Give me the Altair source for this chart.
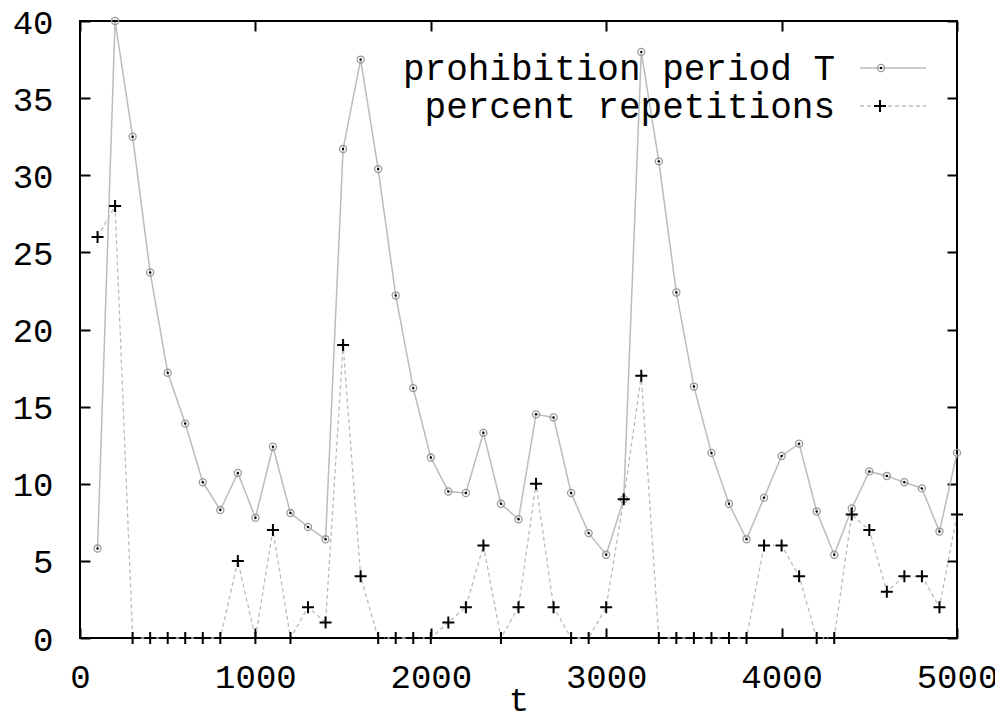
import altair as alt
import pandas as pd

# ---- data ----
t_vals = list(range(100, 5001, 100))
T_vals = [5.8, 40.0, 32.5, 23.7, 17.2, 13.9, 10.1, 8.3, 10.7, 7.8,
          12.4, 8.1, 7.2, 6.4, 31.7, 37.5, 30.4, 22.2, 16.2, 11.7,
          9.5, 9.4, 13.3, 8.7, 7.7, 14.5, 14.3, 9.4, 6.8, 5.4,
          9.0, 38.0, 30.9, 22.4, 16.3, 12.0, 8.7, 6.4, 9.1, 11.8,
          12.6, 8.2, 5.4, 8.4, 10.8, 10.5, 10.1, 9.7, 6.9, 12.0]
rep_vals = [26, 28, 0, 0, 0, 0, 0, 0, 5, 0,
            7, 0, 2, 1, 19, 4, 0, 0, 0, 0,
            1, 2, 6, 0, 2, 10, 2, 0, 0, 2,
            9, 17, 0, 0, 0, 0, 0, 0, 6, 6,
            4, 0, 0, 8, 7, 3, 4, 4, 2, 8]
series_names = ["prohibition period T", "percent repetitions"]
x_ticks = [0, 1000, 2000, 3000, 4000, 5000]
y_ticks = [0, 5, 10, 15, 20, 25, 30, 35, 40]
x_title = "t"

df = pd.DataFrame({"t": t_vals, "T": T_vals, "rep": rep_vals})

FONT = "Liberation Mono"
LINE_GRAY = "#bcbcbc"
PLUS = "M-1,0L1,0M0,-1L0,1"

W, H = 877, 617

common_axis = dict(offset=-10, tickSize=10, tickWidth=2, tickColor="black",
                   domain=False, grid=False, labelFont=FONT, labelFontSize=34,
                   labelColor="black", labelOverlap=False, labelFlush=False,
                   format="d")

ax_bottom = alt.Axis(orient="bottom", values=x_ticks, labelPadding=22,
                     title=x_title, titleFont=FONT, titleFontSize=34,
                     titleFontWeight="normal", titleColor="black",
                     titleBaseline="alphabetic", titleY=82, **common_axis)
ax_top = alt.Axis(orient="top", values=x_ticks, labels=False, title=None,
                  **common_axis)
ax_left = alt.Axis(orient="left", values=y_ticks, labelPadding=27, title=None,
                   labelOffset=2, **common_axis)
ax_right = alt.Axis(orient="right", values=y_ticks, labels=False, title=None,
                    **common_axis)

xs = alt.Scale(domain=[0, 5000], nice=False, zero=False)
ys = alt.Scale(domain=[0, 40], nice=False)

base = alt.Chart(df)

line_T = base.mark_line(color=LINE_GRAY, strokeWidth=1.5).encode(
    x=alt.X("t:Q", scale=xs, axis=ax_bottom),
    y=alt.Y("T:Q", scale=ys, axis=ax_left),
)
line_rep = base.mark_line(color=LINE_GRAY, strokeWidth=1.3, strokeDash=[4, 3]).encode(
    x=alt.X("t:Q", scale=xs, axis=ax_top),
    y=alt.Y("rep:Q", scale=ys, axis=ax_right),
)
pts_T = base.mark_point(shape="circle", size=50, filled=False, stroke="#9a9a9a",
                        strokeWidth=1.3, opacity=1).encode(
    x=alt.X("t:Q", scale=xs, axis=None),
    y=alt.Y("T:Q", scale=ys, axis=None),
)
dots_T = base.mark_point(shape="circle", size=6, filled=True, color="black",
                         opacity=1).encode(
    x=alt.X("t:Q", scale=xs, axis=None),
    y=alt.Y("T:Q", scale=ys, axis=None),
)
pts_rep = base.mark_point(shape=PLUS, size=144, filled=False, stroke="black",
                          strokeWidth=2, opacity=1).encode(
    x=alt.X("t:Q", scale=xs, axis=None),
    y=alt.Y("rep:Q", scale=ys, axis=None),
)

# ---- legend (gnuplot style: label then sample, top right) ----
leg = alt.Chart(pd.DataFrame({"name": series_names[:1]}))
leg_txt1 = leg.mark_text(font=FONT, fontSize=36, align="right",
                         baseline="alphabetic", color="black").encode(
    x=alt.value(755), y=alt.value(59), text=alt.value(series_names[0]))
leg_txt2 = leg.mark_text(font=FONT, fontSize=36, align="right",
                         baseline="alphabetic", color="black").encode(
    x=alt.value(755), y=alt.value(97), text=alt.value(series_names[1]))
leg_line1 = leg.mark_rule(color=LINE_GRAY, strokeWidth=1.5).encode(
    x=alt.value(780), x2=alt.value(846), y=alt.value(47))
leg_line2 = leg.mark_rule(color=LINE_GRAY, strokeWidth=1.3, strokeDash=[4, 3]).encode(
    x=alt.value(780), x2=alt.value(846), y=alt.value(85))
leg_pt1 = leg.mark_point(shape="circle", size=50, filled=False, stroke="#9a9a9a",
                         strokeWidth=1.3, opacity=1).encode(
    x=alt.value(801), y=alt.value(47))
leg_dot1 = leg.mark_point(shape="circle", size=6, filled=True, color="black",
                          opacity=1).encode(x=alt.value(801), y=alt.value(47))
leg_pt2 = leg.mark_point(shape=PLUS, size=144, filled=False, stroke="black",
                         strokeWidth=2, opacity=1).encode(
    x=alt.value(800), y=alt.value(85))

chart = alt.layer(
    line_T, line_rep, pts_T, dots_T, pts_rep,
    leg_line1, leg_line2, leg_pt1, leg_dot1, leg_pt2, leg_txt1, leg_txt2,
).resolve_axis(x="independent", y="independent").properties(
    width=W, height=H,
    autosize=alt.AutoSizeParams(type="none"),
    padding={"left": 72, "top": 13, "right": 38, "bottom": 79},
    background="white",
).configure_view(stroke="black", strokeWidth=2)

chart.save("out.html", embed_options={"renderer": "svg", "actions": False})
